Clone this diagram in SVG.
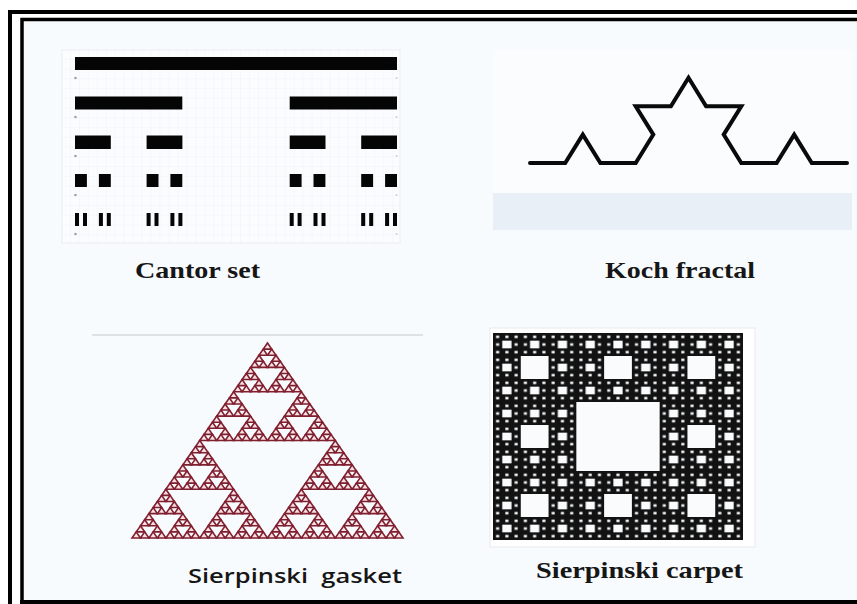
<svg xmlns="http://www.w3.org/2000/svg" xmlns:xlink="http://www.w3.org/1999/xlink" width="857" height="604" viewBox="0 0 857 604">
<style>
.bar{fill:#050505}
.lbl{font-family:"Liberation Serif","Times New Roman",serif;font-weight:bold;font-size:24px;fill:#161616}
.lbls{font-family:"Open Sans","DejaVu Sans",sans-serif;font-weight:600;font-size:19px;fill:#161616}
.tri{fill:#f7dfe2;stroke:#7f1f2f;stroke-width:1.6;stroke-linejoin:miter}
.hole{fill:#f9fbfd}
.dot{fill:#9aa3ad}
</style>
<defs>
<pattern id="grid" patternUnits="userSpaceOnUse" x="62" y="50" width="8.95" height="9.75">
<path d="M8.95 0V9.75M0 9.75H8.95" fill="none" stroke="#e9edf3" stroke-width="0.6"/>
</pattern>
<polygon id="g0" class="tri" points="267.5,343 271.734,349.094 263.266,349.094"/>
<g id="g1"><use href="#g0"/><use href="#g0" x="-4.234" y="6.094"/><use href="#g0" x="4.234" y="6.094"/></g>
<g id="g2"><use href="#g1"/><use href="#g1" x="-8.469" y="12.188"/><use href="#g1" x="8.469" y="12.188"/></g>
<g id="g3"><use href="#g2"/><use href="#g2" x="-16.938" y="24.375"/><use href="#g2" x="16.938" y="24.375"/></g>
<g id="g4"><use href="#g3"/><use href="#g3" x="-33.875" y="48.75"/><use href="#g3" x="33.875" y="48.75"/></g>
<pattern id="c2" patternUnits="userSpaceOnUse" x="493" y="333" width="83.333" height="69"><rect class="hole" x="27.778" y="23" width="27.778" height="23"/></pattern>
<pattern id="c3" patternUnits="userSpaceOnUse" x="493" y="333" width="27.778" height="23"><rect class="hole" x="9.259" y="7.667" width="9.259" height="7.667"/></pattern>
<pattern id="c4" patternUnits="userSpaceOnUse" x="493" y="333" width="9.259" height="7.667"><rect fill="#f4f6f8" x="3.086" y="2.556" width="3.086" height="2.556"/></pattern>
</defs>

<rect x="0" y="0" width="857" height="604" fill="#ffffff"/>
<rect x="22" y="20" width="835" height="582" fill="#f8fbfd"/>

<g id="frame" fill="none" stroke="#000">
<path d="M10 604V12H857" stroke-width="4"/>
<path d="M22 604V19.5H857" stroke-width="3.5"/>
<path d="M20 602H857" stroke-width="4"/>
</g>

<g id="cantor">
<rect x="62" y="50" width="338" height="193" fill="#fbfcfe" stroke="#e8ecf2" stroke-width="1"/>
<rect x="62" y="50" width="338" height="193" fill="url(#grid)"/>
<g class="bar">
<rect x="75" y="57" width="322" height="13"/>
<rect x="75" y="96.5" width="107.3" height="13"/>
<rect x="289.7" y="96.5" width="107.3" height="13"/>
<rect x="75" y="135.5" width="35.8" height="13.5"/>
<rect x="146.6" y="135.5" width="35.8" height="13.5"/>
<rect x="289.7" y="135.5" width="35.8" height="13.5"/>
<rect x="361.2" y="135.5" width="35.8" height="13.5"/>
<rect x="75" y="174" width="11.9" height="13"/>
<rect x="98.9" y="174" width="11.9" height="13"/>
<rect x="146.6" y="174" width="11.9" height="13"/>
<rect x="170.4" y="174" width="11.9" height="13"/>
<rect x="289.7" y="174" width="11.9" height="13"/>
<rect x="313.5" y="174" width="11.9" height="13"/>
<rect x="361.2" y="174" width="11.9" height="13"/>
<rect x="385.1" y="174" width="11.9" height="13"/>
<rect x="75" y="213" width="4" height="13"/><rect x="83" y="213" width="4" height="13"/>
<rect x="98.9" y="213" width="4" height="13"/><rect x="106.8" y="213" width="4" height="13"/>
<rect x="146.6" y="213" width="4" height="13"/><rect x="154.5" y="213" width="4" height="13"/>
<rect x="170.4" y="213" width="4" height="13"/><rect x="178.4" y="213" width="4" height="13"/>
<rect x="289.7" y="213" width="4" height="13"/><rect x="297.6" y="213" width="4" height="13"/>
<rect x="313.5" y="213" width="4" height="13"/><rect x="321.5" y="213" width="4" height="13"/>
<rect x="361.2" y="213" width="4" height="13"/><rect x="369.2" y="213" width="4" height="13"/>
<rect x="385.1" y="213" width="4" height="13"/><rect x="393" y="213" width="4" height="13"/>
</g>
<g class="dot">
<circle cx="75.5" cy="78" r="1.3"/><circle cx="75.5" cy="117" r="1.3"/><circle cx="75.5" cy="156" r="1.3"/><circle cx="75.5" cy="195" r="1.3"/><circle cx="75.5" cy="234" r="1.3"/>
<circle cx="396.5" cy="78" r="1" opacity="0.5"/><circle cx="396.5" cy="117" r="1" opacity="0.5"/><circle cx="396.5" cy="156" r="1" opacity="0.5"/><circle cx="396.5" cy="195" r="1" opacity="0.5"/><circle cx="396.5" cy="234" r="1" opacity="0.5"/>
</g>
<text class="lbl" x="135" y="278" textLength="125" lengthAdjust="spacingAndGlyphs">Cantor set</text>
</g>

<g id="koch">
<rect x="493" y="50" width="359" height="143" fill="#fafcfe"/>
<rect x="493" y="193" width="359" height="37" fill="#e9eff6"/>
<polyline points="530,163 565.2,163 582.8,134.6 600.4,163 635.7,163 653.3,134.6 635.7,106.2 670.9,106.2 688.5,77.8 706.1,106.2 741.3,106.2 723.7,134.6 741.3,163 776.6,163 794.2,134.6 811.8,163 847,163" fill="none" stroke="#0a0a0a" stroke-width="4" stroke-linecap="round" stroke-linejoin="miter"/>
<text class="lbl" x="605" y="278" textLength="150" lengthAdjust="spacingAndGlyphs">Koch fractal</text>
</g>

<g id="gasket">
<line x1="92" y1="335" x2="423" y2="335" stroke="#dde2e7" stroke-width="2"/>
<use href="#g4"/>
<use href="#g4" x="-67.75" y="97.5"/>
<use href="#g4" x="67.75" y="97.5"/>
<text class="lbls" x="188" y="583" textLength="214" lengthAdjust="spacingAndGlyphs" xml:space="preserve">Sierpinski  gasket</text>
</g>

<g id="carpet">
<rect x="490" y="328" width="265" height="219" fill="#ffffff" stroke="#e6ebf0" stroke-width="1"/>
<rect x="493" y="333" width="250" height="207" fill="#121212"/>
<rect x="493" y="333" width="250" height="207" fill="url(#c4)"/>
<rect x="493" y="333" width="250" height="207" fill="url(#c3)"/>
<rect x="493" y="333" width="250" height="207" fill="url(#c2)"/>
<rect class="hole" x="576.333" y="402" width="83.333" height="69"/>
<text class="lbl" x="536" y="578" textLength="207" lengthAdjust="spacingAndGlyphs">Sierpinski carpet</text>
</g>
</svg>
